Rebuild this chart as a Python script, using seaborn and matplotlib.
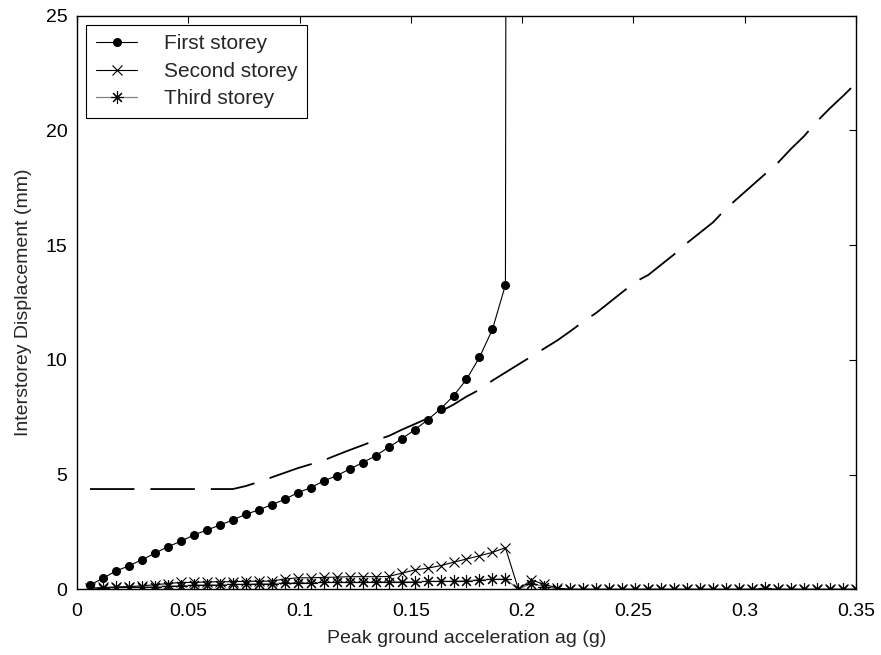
import numpy as np
import pandas as pd
import matplotlib
matplotlib.use("Agg")
import matplotlib.pyplot as plt
import seaborn as sns

# Peak ground acceleration grid (g), 60 steps up to 0.35
pga = np.round(np.linspace(0.35 / 60, 0.35, 60), 5)

# First storey: collapses after 0.1925 g (last value far above the axis)
first_storey = [0.19, 0.48, 0.80, 1.02, 1.29, 1.57, 1.86, 2.09, 2.37, 2.58,
                2.80, 3.02, 3.27, 3.46, 3.69, 3.92, 4.21, 4.43, 4.72, 4.95,
                5.24, 5.52, 5.82, 6.19, 6.55, 6.95, 7.38, 7.86, 8.43, 9.15,
                10.11, 11.33, 13.27, 400.0]

second_storey = [0.05, 0.08, 0.10, 0.12, 0.15, 0.20, 0.25, 0.30, 0.30, 0.32,
                 0.33, 0.33, 0.35, 0.35, 0.36, 0.45, 0.50, 0.50, 0.52, 0.53,
                 0.55, 0.55, 0.55, 0.56, 0.70, 0.84, 0.92, 1.03, 1.18, 1.32,
                 1.46, 1.61, 1.81, 0.0, 0.40, 0.22, 0.05, 0.0, 0.0, 0.0,
                 0.0, 0.0, 0.0, 0.0, 0.0, 0.0, 0.0, 0.0, 0.0, 0.0,
                 0.0, 0.0, 0.0, 0.0, 0.0, 0.0, 0.0, 0.0, 0.0, 0.0]

third_storey = [0.0, 0.05, 0.08, 0.10, 0.10, 0.12, 0.15, 0.15, 0.18, 0.20,
                0.20, 0.22, 0.22, 0.25, 0.25, 0.27, 0.28, 0.28, 0.30, 0.30,
                0.30, 0.30, 0.32, 0.33, 0.33, 0.33, 0.35, 0.35, 0.35, 0.38,
                0.42, 0.44, 0.45, 0.0, 0.25, 0.12, 0.03, 0.0, 0.0, 0.0,
                0.0, 0.0, 0.0, 0.0, 0.0, 0.0, 0.0, 0.0, 0.0, 0.0,
                0.0, 0.0, 0.05, 0.0, 0.0, 0.0, 0.0, 0.0, 0.0, 0.0]

# Limit curve (dashed, no legend entry)
limit_curve = [4.37, 4.37, 4.37, 4.37, 4.37, 4.37, 4.37, 4.37, 4.37, 4.37,
               4.37, 4.37, 4.50, 4.68, 4.88, 5.08, 5.28, 5.45, 5.62, 5.85,
               6.07, 6.28, 6.50, 6.68, 6.95, 7.20, 7.45, 7.75, 8.05, 8.40,
               8.70, 9.10, 9.45, 9.80, 10.15, 10.50, 10.85, 11.25, 11.67, 12.05,
               12.50, 12.95, 13.40, 13.70, 14.15, 14.60, 15.10, 15.55, 16.00, 16.60,
               17.10, 17.60, 18.10, 18.60, 19.20, 19.75, 20.40, 20.97, 21.50, 22.06]

x_ticks = [0, 0.05, 0.1, 0.15, 0.2, 0.25, 0.3, 0.35]
x_tick_labels = ["0", "0.05", "0.1", "0.15", "0.2", "0.25", "0.3", "0.35"]
y_ticks = [0, 5, 10, 15, 20, 25]

sns.set_theme(style="white")
plt.rcParams["font.family"] = ["Liberation Sans", "DejaVu Sans"]
plt.rcParams["lines.scale_dashes"] = False

fig = plt.figure(figsize=(8.81, 6.55), dpi=100)
ax = fig.add_axes([0.0874, 0.1003, 0.8842, 0.8757])

asterisk = (8, 2, 0)

# dashed reference curve
sns.lineplot(x=pga, y=limit_curve, ax=ax, color="black", linewidth=1.3,
             linestyle=(0, (32, 11.5)), legend=False)
sns.lineplot(x=pga, y=third_storey, ax=ax, color="0.5", linewidth=0.9,
             marker=asterisk, markersize=9, markerfacecolor="black",
             markeredgecolor="black", markeredgewidth=0.8)
line3 = ax.get_lines()[-1]
sns.lineplot(x=pga, y=second_storey, ax=ax, color="black", linewidth=0.8,
             marker="x", markersize=6.5, markeredgecolor="black",
             markeredgewidth=0.8)
line2 = ax.get_lines()[-1]
sns.lineplot(x=pga[:len(first_storey)], y=first_storey, ax=ax, color="black",
             linewidth=0.8, marker="o", markersize=6.5, markeredgecolor="black",
             markeredgewidth=0)
line1 = ax.get_lines()[-1]

ax.set_xlim(0, 0.35)
ax.set_ylim(0, 25)
ax.set_xticks(x_ticks)
ax.set_xticklabels(x_tick_labels)
ax.set_yticks(y_ticks)
ax.tick_params(direction="in", length=5, width=0.8, top=True, right=True,
               labelsize=14, colors="black")
ax.tick_params(axis="x", pad=10)
ax.tick_params(axis="y", pad=7)
for s in ax.spines.values():
    s.set_visible(True)
    s.set_color("black")
    s.set_linewidth(1.0)

ax.set_xlabel("Peak ground acceleration ag (g)", fontsize=14, labelpad=7)
ax.set_ylabel("Interstorey Displacement (mm)", fontsize=14, labelpad=10)

leg = ax.legend([line1, line2, line3],
                ["First storey", "Second storey", "Third storey"],
                loc="upper left", fontsize=15, frameon=True, fancybox=False,
                edgecolor="black", handlelength=2.0, borderaxespad=0.45,
                labelspacing=0.4, handletextpad=1.3, borderpad=0.45,
                framealpha=1)
leg.get_frame().set_linewidth(0.8)

fig.savefig("out.png", dpi=100, facecolor="white")
